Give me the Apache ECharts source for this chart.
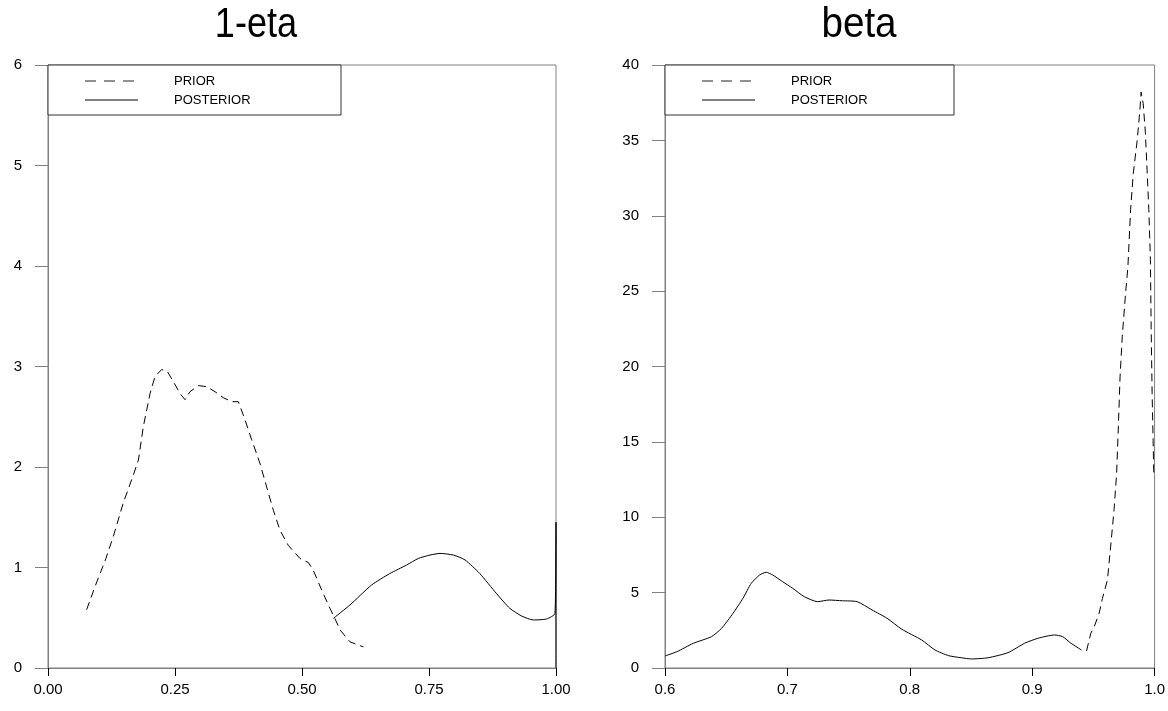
<!DOCTYPE html>
<html>
<head>
<meta charset="utf-8">
<title>1-eta / beta</title>
<script src="https://cdn.jsdelivr.net/npm/echarts@6/dist/echarts.min.js"></script>
<style>
  html, body { margin: 0; padding: 0; background: #fff; }
  #chart { width: 1168px; height: 711px; }
</style>
</head>
<body>
<div id="chart"></div>
<script>
// Density estimates: prior (dashed) and posterior (solid)

// --- 1-eta panel ---
const etaPriorX = [0.076, 0.0925, 0.114, 0.1286, 0.148, 0.168, 0.178, 0.1876, 0.2008, 0.2106,
  0.2238, 0.235, 0.2467, 0.26, 0.2697, 0.2795, 0.296, 0.312, 0.3287, 0.345,
  0.3616, 0.3747, 0.3878, 0.401, 0.417, 0.4305, 0.4436, 0.4567, 0.473, 0.496,
  0.5124, 0.522, 0.5387, 0.555, 0.565, 0.575, 0.5945, 0.6207];
const etaPriorY = [0.58, 0.81, 1.09, 1.31, 1.64, 1.92, 2.07, 2.40, 2.73, 2.90,
  2.97, 2.95, 2.85, 2.73, 2.67, 2.75, 2.81, 2.80, 2.75, 2.69,
  2.65, 2.65, 2.47, 2.27, 2.04, 1.80, 1.57, 1.37, 1.22, 1.09,
  1.05, 0.975, 0.776, 0.594, 0.49, 0.378, 0.26, 0.21];

const etaPostX = [0.5617, 0.5945, 0.637, 0.673, 0.706, 0.729, 0.752, 0.7717, 0.798, 0.821,
  0.850, 0.883, 0.909, 0.9325, 0.955, 0.9817, 0.998, 1.0, 1.0];
const etaPostY = [0.494, 0.627, 0.826, 0.94, 1.025, 1.09, 1.124, 1.14, 1.124, 1.075,
  0.94, 0.74, 0.594, 0.517, 0.478, 0.488, 0.544, 1.45, 0];

// --- beta panel ---
const betaPriorX = [0.9444, 0.9479, 0.9507, 0.9547, 0.9574, 0.9615, 0.9641, 0.9669, 0.9690, 0.9704,
  0.9718, 0.9736, 0.9763, 0.9782, 0.9804, 0.9826, 0.9858, 0.9880, 0.9890, 0.9907,
  0.9925, 0.9939, 0.9953, 0.9966, 0.9972, 0.9980, 0.9988, 0.9994];
const betaPriorY = [1.13, 2.30, 2.74, 3.63, 4.62, 5.84, 8.05, 10.5, 12.9, 16.0,
  19.3, 22.0, 24.85, 26.6, 30.4, 32.8, 35.0, 37.0, 38.2, 37.45,
  35.5, 33.0, 30.4, 27.1, 22.6, 18.2, 15.1, 12.7];

const betaPostX = [0.6, 0.6097, 0.6232, 0.638, 0.6462, 0.6556, 0.6637, 0.6705, 0.6773, 0.6827,
  0.688, 0.6962, 0.7043, 0.7138, 0.7246, 0.734, 0.7449, 0.757, 0.7692, 0.7814,
  0.7935, 0.8097, 0.8205, 0.8316, 0.842, 0.8505, 0.864, 0.8803, 0.8938, 0.9046,
  0.9182, 0.9249, 0.9317, 0.9403];
const betaPostY = [0.80, 1.08, 1.64, 2.08, 2.63, 3.63, 4.62, 5.62, 6.17, 6.35,
  6.17, 5.72, 5.29, 4.73, 4.40, 4.51, 4.46, 4.40, 3.85, 3.30,
  2.57, 1.86, 1.20, 0.82, 0.68, 0.60, 0.68, 1.02, 1.64, 1.97,
  2.19, 2.08, 1.64, 1.19];

// Axis settings
const panelTitles = ['1-eta', 'beta'];
const legendLabels = ['PRIOR', 'POSTERIOR'];
const etaXRange = [0, 1, 0.25];
const etaYRange = [0, 6, 1];
const betaXRange = [0.6, 1.0, 0.1];
const betaYRange = [0, 40, 5];

const FONT = '"Liberation Sans", Arial, Helvetica, sans-serif';
const FRAME = '#808080';

function zip(xs, ys) { return xs.map((x, i) => [x, ys[i]]); }

function xAxisFor(grid, range, digits) {
  return {
    type: 'value', gridIndex: grid,
    min: range[0], max: range[1], interval: range[2],
    axisLine: { show: true, onZero: false, lineStyle: { color: FRAME, width: 1 } },
    axisTick: { show: true, length: 8, lineStyle: { color: '#000', width: 1 } },
    axisLabel: { color: '#000', fontSize: 15, fontFamily: FONT, margin: 14,
      formatter: v => v.toFixed(digits) },
    splitLine: { show: false }
  };
}
function yAxisFor(grid, range) {
  return {
    type: 'value', gridIndex: grid,
    min: range[0], max: range[1], interval: range[2],
    axisLine: { show: true, onZero: false, lineStyle: { color: FRAME, width: 1 } },
    axisTick: { show: true, length: 13, lineStyle: { color: FRAME, width: 1 } },
    axisLabel: { color: '#000', fontSize: 15, fontFamily: FONT, margin: 26 },
    splitLine: { show: false }
  };
}
function lineSeries(idx, data, dashed, smooth) {
  return {
    type: 'line', xAxisIndex: idx, yAxisIndex: idx, data: data,
    showSymbol: false, symbol: 'none', smooth: smooth, clip: false,
    lineStyle: { color: '#000', width: 1, type: dashed ? [8, 5] : 'solid' },
    animation: false
  };
}

// Legend box drawn in each panel's upper-left corner
function legendBox(left, top, width) {
  return [
    { type: 'rect', shape: { x: left, y: top, width: width, height: 50 },
      style: { fill: '#fff', stroke: '#333', lineWidth: 1 }, z: 10 },
    { type: 'line', shape: { x1: left + 37, y1: top + 16, x2: left + 90, y2: top + 16 },
      style: { stroke: '#222', lineWidth: 1, lineDash: [11, 8] }, z: 11 },
    { type: 'line', shape: { x1: left + 37, y1: top + 35, x2: left + 90, y2: top + 35 },
      style: { stroke: '#000', lineWidth: 1 }, z: 11 },
    { type: 'text', x: left + 126, y: top + 16,
      style: { text: legendLabels[0], fill: '#000', font: '13px ' + FONT, textVerticalAlign: 'middle' }, z: 11 },
    { type: 'text', x: left + 126, y: top + 35,
      style: { text: legendLabels[1], fill: '#000', font: '13px ' + FONT, textVerticalAlign: 'middle' }, z: 11 }
  ];
}

const chart = echarts.init(document.getElementById('chart'), null, { renderer: 'canvas' });
chart.setOption({
  backgroundColor: '#fff',
  animation: false,
  grid: [
    { left: 48, top: 65, width: 508, height: 603, show: true, borderColor: FRAME, borderWidth: 1 },
    { left: 665, top: 65, width: 492, height: 603, show: true, borderColor: FRAME, borderWidth: 1 }
  ],
  xAxis: [xAxisFor(0, etaXRange, 2), xAxisFor(1, betaXRange, 1)],
  yAxis: [yAxisFor(0, etaYRange), yAxisFor(1, betaYRange)],
  series: [
    lineSeries(0, zip(etaPriorX, etaPriorY), true, false),
    lineSeries(0, zip(etaPostX, etaPostY), false, 0.2),
    lineSeries(1, zip(betaPriorX, betaPriorY), true, false),
    lineSeries(1, zip(betaPostX, betaPostY), false, 0.2)
  ],
  graphic: [
    { type: 'text', x: 256, y: 25, scaleX: 0.86,
      style: { text: panelTitles[0], fill: '#000', font: '42px ' + FONT,
        textAlign: 'center', textVerticalAlign: 'middle' } },
    { type: 'text', x: 859, y: 25, scaleX: 0.92,
      style: { text: panelTitles[1], fill: '#000', font: '42px ' + FONT,
        textAlign: 'center', textVerticalAlign: 'middle' } },
    ...legendBox(48, 65, 293),
    ...legendBox(665, 65, 289)
  ]
});
</script>
</body>
</html>
